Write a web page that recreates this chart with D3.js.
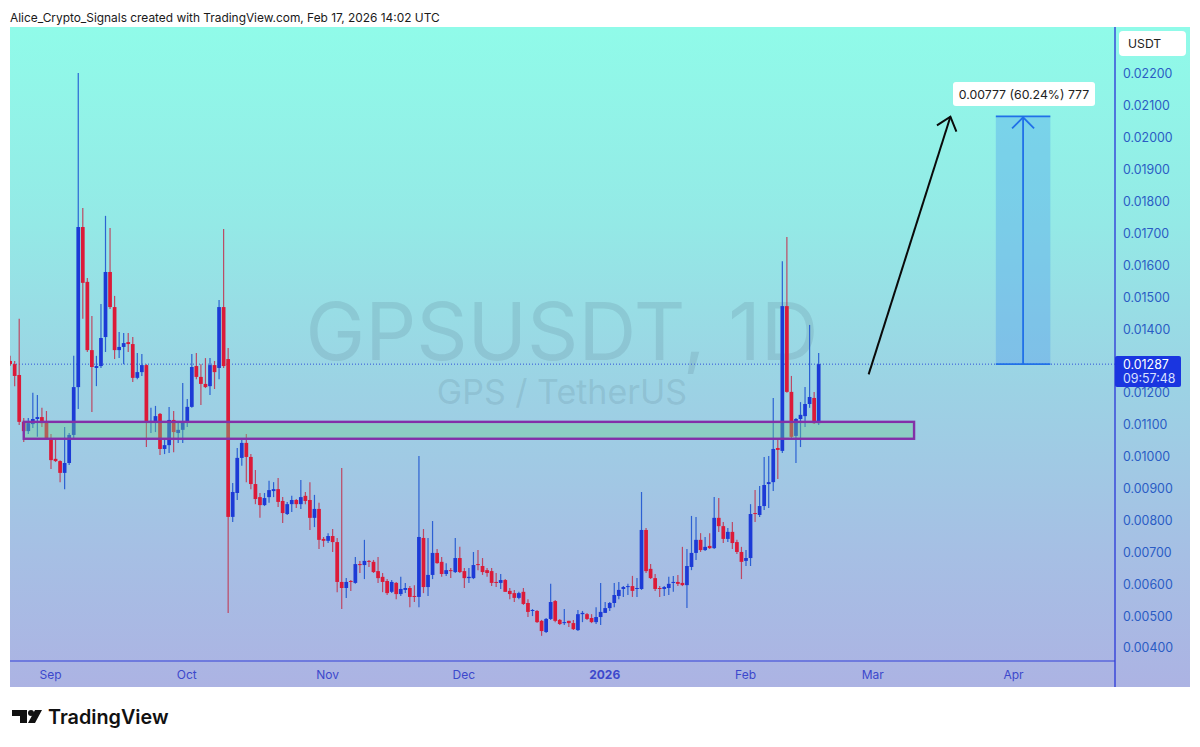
<!DOCTYPE html>
<html><head><meta charset="utf-8">
<script src="https://d3js.org/d3.v7.min.js"></script>
<style>html,body{margin:0;padding:0;background:#fff}svg{display:block}text{font-family:Inter,"Noto Sans",sans-serif}</style>
</head><body><svg id="c" width="1200" height="747"></svg>
<script>
const firstDay = "2025-08-23";
const opens = [.01297,.01287,.01253,.01106,.01077,.01099,.01115,.01121,.01106,.01055,.00990,.00983,.00946,.00977,.01065,.01215,.01717,.01545,.01331,.01275,.01281,.01372,.01576,.01466,.01331,.01341,.01356,.01350,.01244,.01262,
.01284,.01106,.01106,.01131,.01021,.01033,.01112,.01071,.01081,.01106,.01153,.01281,.01247,.01225,.01218,.01284,.01275,.01466,.01303,.00808,
.00883,.00993,.01040,.00996,.00911,.00870,.00845,.00870,.00889,.00895,.00858,.00817,.00848,.00861,.00848,.00874,.00861,.00805,.00833,.00739,
.00733,.00748,.00729,.00604,.00585,.00607,.00601,.00660,.00657,.00670,.00667,.00638,.00620,.00607,.00573,.00601,.00566,.00579,.00585,.00560,
.00557,.00742,.00588,.00626,.00695,.00667,.00629,.00641,.00635,.00679,.00638,.00616,.00616,.00660,.00654,.00641,.00638,.00604,.00601,.00610,
.00576,.00569,.00554,.00573,.00538,.00513,.00513,.00482,.00447,.00488,.00544,.00485,.00475,.00482,.00475,.00453,.00503,.00503,.00491,.00478,
.00494,.00507,.00522,.00538,.00560,.00582,.00588,.00591,.00582,.00582,.00767,.00645,.00616,.00585,.00582,.00585,.00601,.00604,.00601,.00594,
.00651,.00695,.00736,.00704,.00717,.00710,.00805,.00779,.00739,.00761,.00729,.00698,.00670,.00679,.00820,.00814,.00842,.00911,.00917,.01024,
.01015,.01469,.01200,.01062,.01115,.01124,.01162,.01181,.01102];
const highs = [.01313,.01297,.01429,.01118,.01118,.01197,.01190,.01150,.01140,.01068,.01055,.00986,.01090,.01071,.01313,.02200,.01777,.01557,.01438,.01313,.01476,.01752,.01714,.01501,.01388,.01385,.01385,.01372,.01322,.01319,
.01287,.01150,.01156,.01134,.01055,.01153,.01140,.01109,.01228,.01178,.01319,.01322,.01287,.01306,.01306,.01297,.01488,.01711,.01338,.00914,
.01024,.01049,.01068,.01005,.00955,.00883,.00883,.00921,.00917,.00930,.00870,.00855,.00874,.00864,.00924,.00886,.00917,.00877,.00852,.00745,
.00757,.00770,.00742,.00961,.00616,.00610,.00682,.00670,.00736,.00673,.00673,.00682,.00632,.00613,.00610,.00604,.00620,.00601,.00591,.00594,
.00999,.00770,.00742,.00795,.00707,.00682,.00663,.00648,.00742,.00714,.00648,.00648,.00698,.00704,.00679,.00648,.00648,.00632,.00629,.00613,
.00585,.00579,.00573,.00585,.00550,.00519,.00516,.00485,.00491,.00598,.00547,.00488,.00519,.00482,.00485,.00516,.00513,.00507,.00503,.00525,
.00601,.00541,.00541,.00601,.00604,.00591,.00598,.00623,.00616,.00886,.00773,.00660,.00629,.00591,.00591,.00620,.00623,.00626,.00714,.00707,
.00811,.00808,.00757,.00745,.00757,.00870,.00867,.00792,.00773,.00792,.00736,.00714,.00704,.00848,.00892,.00905,.00996,.00999,.01181,.01055,
.01610,.01686,.01250,.01118,.01168,.01215,.01410,.01200,.01322];
const lows = [.01281,.01218,.01096,.01043,.01068,.01087,.01059,.01090,.01052,.00958,.00980,.00917,.00895,.00971,.01055,.01146,.01429,.01325,.01137,.01218,.01275,.01325,.01460,.01303,.01306,.01287,.01325,.01231,.01240,.01250,
.01027,.01071,.01074,.01002,.01005,.01008,.01011,.01040,.01040,.01090,.01150,.01240,.01159,.01212,.01190,.01209,.01240,.01275,.00507,.00792,
.00861,.00968,.00917,.00895,.00848,.00805,.00842,.00852,.00870,.00839,.00789,.00814,.00823,.00836,.00833,.00848,.00767,.00776,.00707,.00714,
.00726,.00698,.00572,.00519,.00554,.00576,.00598,.00632,.00613,.00651,.00632,.00601,.00572,.00563,.00569,.00550,.00560,.00569,.00525,.00541,
.00525,.00569,.00560,.00613,.00661,.00620,.00623,.00616,.00632,.00632,.00585,.00601,.00613,.00641,.00626,.00620,.00591,.00588,.00582,.00573,
.00550,.00541,.00550,.00532,.00494,.00497,.00475,.00435,.00444,.00485,.00478,.00469,.00469,.00463,.00453,.00450,.00478,.00485,.00475,.00472,
.00469,.00507,.00513,.00525,.00550,.00557,.00563,.00557,.00557,.00579,.00632,.00613,.00576,.00557,.00560,.00563,.00573,.00591,.00591,.00522,
.00641,.00673,.00698,.00701,.00707,.00707,.00761,.00726,.00729,.00707,.00692,.00613,.00654,.00654,.00792,.00808,.00830,.00836,.00889,.00927,
.01008,.01197,.01055,.00977,.01027,.01090,.01150,.01099,.01096];
const closes = [.01287,.01250,.01106,.01077,.01102,.01115,.01121,.01102,.01055,.00986,.00983,.00946,.00977,.01065,.01215,.01717,.01542,.01331,.01278,.01281,.01369,.01576,.01466,.01331,.01341,.01353,.01350,.01244,.01262,.01284,
.01106,.01109,.01124,.01021,.01033,.01112,.01074,.01081,.01106,.01153,.01278,.01247,.01225,.01215,.01284,.01262,.01466,.01281,.00808,.00886,
.00993,.01040,.00996,.00911,.00864,.00845,.00867,.00892,.00895,.00855,.00820,.00848,.00861,.00848,.00870,.00858,.00805,.00833,.00736,.00733,
.00748,.00729,.00604,.00585,.00604,.00604,.00660,.00657,.00670,.00667,.00635,.00616,.00604,.00569,.00604,.00566,.00582,.00585,.00557,.00557,
.00745,.00588,.00626,.00695,.00663,.00629,.00641,.00638,.00679,.00635,.00616,.00620,.00657,.00657,.00635,.00632,.00601,.00601,.00610,.00573,
.00566,.00554,.00569,.00535,.00510,.00516,.00478,.00450,.00488,.00541,.00482,.00472,.00478,.00475,.00456,.00503,.00507,.00488,.00478,.00494,
.00510,.00522,.00538,.00563,.00579,.00588,.00591,.00576,.00585,.00767,.00638,.00616,.00582,.00582,.00588,.00598,.00604,.00598,.00594,.00654,
.00695,.00736,.00704,.00714,.00710,.00805,.00779,.00739,.00761,.00726,.00698,.00667,.00679,.00817,.00817,.00842,.00908,.00917,.01021,.01018,
.01469,.01200,.01059,.01115,.01128,.01162,.01184,.01102,.01287];
const priceTicks = [.022,.021,.020,.019,.018,.017,.016,.015,.014,.012,.011,.010,.009,.008,.007,.006,.005,.004];
const monthTicks = ["2025-09-01","2025-10-01","2025-11-01","2025-12-01","2026-01-01","2026-02-01","2026-03-01","2026-04-01"];
const monthLabels = ["Sep","Oct","Nov","Dec","2026","Feb","Mar","Apr"];
const lastPrice = .01287, countdown = "09:57:48";
const zoneTop = .01106, zoneBottom = .01053, zoneEnd = "2026-03-10", zoneStart = "2025-08-26";
const targetPrice = .02064, targetStart = "2026-03-28", targetEnd = "2026-04-09";
const arrowFrom = ["2026-02-28", .01255], arrowTo = ["2026-03-18", .02063];
const measureLabel = "0.00777 (60.24%) 777";
const symbolText = "GPSUSDT, 1D", nameText = "GPS / TetherUS";
const headerText = "Alice_Crypto_Signals created with TradingView.com, Feb 17, 2026 14:02 UTC";

const parse = d3.utcParse("%Y-%m-%d");
const svg = d3.select("#c");
const L=10,R=1115,OUT=1190,T=27,P=661,B=687;
const x = d3.scaleUtc().domain([parse("2025-09-01"),parse("2026-04-01")]).range([51,1014]);
const y = d3.scaleLinear().domain([.004,.022]).range([647,73]);
const dates = opens.map((_,i)=>d3.utcDay.offset(parse(firstDay),i));
const bw = (x(parse("2025-09-02"))-x(parse("2025-09-01")))*0.82;
const RED="#dc1a38", BLUE="#1c3ad6", AXIS="#3340d8";

const defs = svg.append("defs");
const g = defs.append("linearGradient").attr("id","bg").attr("x1",0).attr("y1",0).attr("x2",0).attr("y2",1);
[[0,"#90fbe9"],[.3,"#94e9e6"],[.55,"#9cd2e4"],[.8,"#a6bfe4"],[1,"#acb3e3"]].forEach(s=>g.append("stop").attr("offset",s[0]).attr("stop-color",s[1]));
defs.append("clipPath").attr("id","plot").append("rect").attr("x",L).attr("y",T).attr("width",R-L).attr("height",P-T);

svg.append("text").attr("x",10).attr("y",22).attr("font-size",11.9).attr("fill","#1a1a1a").text(headerText);
svg.append("rect").attr("x",L).attr("y",T).attr("width",OUT-L).attr("height",B-T).attr("fill","url(#bg)");

svg.append("text").attr("x",562).attr("y",360).attr("text-anchor","middle").attr("font-size",80)
  .attr("fill","#5a7f8f").attr("fill-opacity",.2).text(symbolText);
svg.append("text").attr("x",562).attr("y",404).attr("text-anchor","middle").attr("font-size",34)
  .attr("fill","#5a7f8f").attr("fill-opacity",.2).text(nameText);

svg.append("line").attr("x1",L).attr("x2",R).attr("y1",y(lastPrice)).attr("y2",y(lastPrice))
  .attr("stroke",BLUE).attr("stroke-width",1).attr("stroke-dasharray","1 2").attr("stroke-opacity",.85);

const plot = svg.append("g").attr("clip-path","url(#plot)");
const candles = plot.selectAll("g.k").data(dates).join("g").attr("class","k");
candles.append("line").attr("x1",d=>x(d)).attr("x2",d=>x(d))
  .attr("y1",(d,i)=>y(highs[i])).attr("y2",(d,i)=>y(lows[i]))
  .attr("stroke",(d,i)=>closes[i]>=opens[i]?"#1f55d0":"#c03a55").attr("stroke-width",1.2).attr("stroke-opacity",.9);
candles.append("rect").attr("x",d=>x(d)-bw/2).attr("width",bw)
  .attr("y",(d,i)=>y(Math.max(opens[i],closes[i])))
  .attr("height",(d,i)=>Math.max(1,Math.abs(y(opens[i])-y(closes[i]))))
  .attr("fill",(d,i)=>closes[i]>=opens[i]?BLUE:RED);

// support zone
svg.append("rect").attr("x",x(parse(zoneStart))).attr("y",y(zoneTop))
  .attr("width",x(parse(zoneEnd))-x(parse(zoneStart))).attr("height",y(zoneBottom)-y(zoneTop))
  .attr("fill","#6fcf8f").attr("fill-opacity",.38).attr("stroke","#8330a8").attr("stroke-width",2.4);

// measuring tool
const mx0=x(parse(targetStart)), mx1=x(parse(targetEnd)), mc=(mx0+mx1)/2, my0=y(lastPrice), my1=y(targetPrice);
svg.append("rect").attr("x",mx0).attr("y",my1).attr("width",mx1-mx0).attr("height",my0-my1)
  .attr("fill","#3f8cf0").attr("fill-opacity",.3);
[my0,my1].forEach(v=>svg.append("line").attr("x1",mx0).attr("x2",mx1).attr("y1",v).attr("y2",v).attr("stroke","#2070e8").attr("stroke-width",1.8));
svg.append("path").attr("d",d3.line()([[mc,my0],[mc,my1]])).attr("stroke","#2070e8").attr("stroke-width",1.8).attr("fill","none");
svg.append("path").attr("d",d3.line()([[mc-11,my1+12],[mc,my1+1],[mc+11,my1+12]])).attr("stroke","#2070e8").attr("stroke-width",1.8).attr("fill","none");
const lab = svg.append("g");
lab.append("rect").attr("x",953).attr("y",82).attr("width",142).attr("height",24).attr("rx",3).attr("fill","#fff");
lab.append("text").attr("x",1024).attr("y",98.5).attr("text-anchor","middle").attr("font-size",12.3).attr("fill","#222").text(measureLabel);

// black arrow
const ax0=x(parse(arrowFrom[0])), ay0=y(arrowFrom[1]), ax1=x(parse(arrowTo[0])), ay1=y(arrowTo[1]);
const ang=Math.atan2(ay1-ay0,ax1-ax0), hl=16;
svg.append("path").attr("d",d3.line()([[ax0,ay0],[ax1,ay1]])).attr("stroke","#0a0a0a").attr("stroke-width",2).attr("fill","none");
svg.append("path").attr("d",d3.line()([[ax1+hl*Math.cos(ang+2.45),ay1+hl*Math.sin(ang+2.45)],[ax1,ay1],[ax1+hl*Math.cos(ang-2.45),ay1+hl*Math.sin(ang-2.45)]]))
  .attr("stroke","#0a0a0a").attr("stroke-width",2).attr("fill","none");

// axes
const yAxis = svg.append("g").attr("transform",`translate(${R},1)`)
  .call(d3.axisRight(y).tickValues(priceTicks).tickSize(0).tickPadding(8).tickFormat(d3.format(".5f")));
yAxis.select(".domain").remove();
yAxis.selectAll("text").attr("font-size",12.4).attr("font-family","Inter,sans-serif").attr("fill","#2a5cc4");
const xAxis = svg.append("g").attr("transform",`translate(-1,${P})`)
  .call(d3.axisBottom(x).tickValues(monthTicks.map(parse)).tickSize(0).tickPadding(9).tickFormat((d,i)=>monthLabels[i]));
xAxis.select(".domain").remove();
xAxis.selectAll("text").attr("font-size",12).attr("font-family","Inter,sans-serif").attr("fill","#3c48cc")
  .attr("font-weight",(d,i)=>monthLabels[i]==="2026"?700:400);
svg.append("line").attr("x1",R).attr("x2",R).attr("y1",T).attr("y2",B).attr("stroke",AXIS).attr("stroke-width",1.4);
svg.append("line").attr("x1",L).attr("x2",R).attr("y1",P).attr("y2",P).attr("stroke",AXIS).attr("stroke-width",1.2);

// price tag and currency
svg.append("rect").attr("x",R).attr("y",356).attr("width",66).attr("height",31).attr("rx",2).attr("fill","#1a35e0");
svg.append("text").attr("x",1123).attr("y",369).attr("font-size",12.4).attr("fill","#fff").text(d3.format(".5f")(lastPrice));
svg.append("text").attr("x",1123).attr("y",383).attr("font-size",12.4).attr("fill","#d8e0ff").text(countdown);
svg.append("rect").attr("x",1119).attr("y",31).attr("width",67).attr("height",25).attr("rx",4).attr("fill","#fff");
svg.append("text").attr("x",1128).attr("y",48).attr("font-size",12.2).attr("fill","#222").text("USDT");

// TradingView mark
svg.append("path").attr("fill","#111").attr("d","M12 710h15v13h-7v-7h-8zM35 710h7l-7 13h-7z");
svg.append("circle").attr("cx",31).attr("cy",713).attr("r",3).attr("fill","#111");
svg.append("text").attr("x",48).attr("y",724).attr("font-size",19.8).attr("font-weight",600).attr("fill","#111").text("TradingView");
</script></body></html>
